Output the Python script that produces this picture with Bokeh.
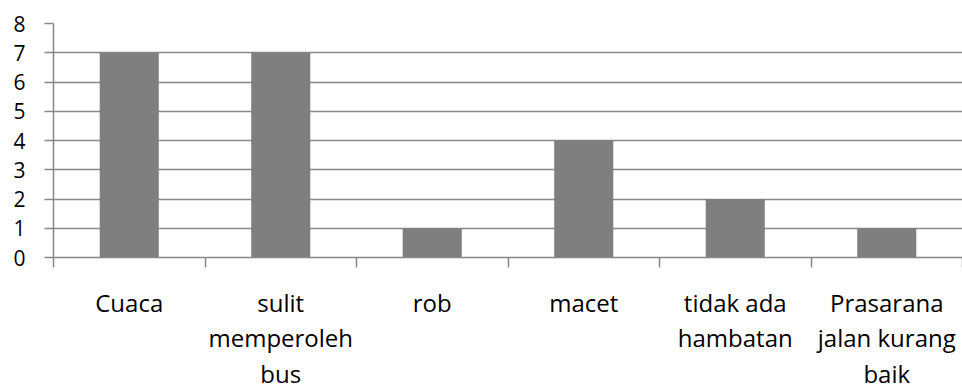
from bokeh.plotting import figure
from bokeh.layouts import column
from bokeh.models import ColumnDataSource, Range1d, FixedTicker
from bokeh.core.properties import value
from bokeh.embed import file_html
from bokeh.resources import INLINE

categories = ["Cuaca", "sulit\nmemperoleh\nbus", "rob", "macet",
              "tidak ada\nhambatan", "Prasarana\njalan kurang\nbaik"]
values = [7, 7, 1, 4, 2, 1]
y_ticks = [0, 1, 2, 3, 4, 5, 6, 7, 8]

GRAY = "#878787"
BAR = "#7f7f7f"
FONT = "Open Sans"

n = len(categories)
centers = [i + 0.5 for i in range(n)]
src = ColumnDataSource(dict(x=centers, top=values, label=categories))
xr = Range1d(0, n)

TOP_H = 276
p = figure(width=962, height=TOP_H, x_range=xr, y_range=Range1d(0, 8),
           output_backend="svg", toolbar_location=None,
           min_border_left=53, min_border_right=0, min_border_top=23,
           min_border_bottom=TOP_H - 257)
p.outline_line_color = None

p.vbar(x="x", top="top", width=0.39, source=src,
       fill_color=BAR, line_color=None)

# x axis: category boundary ticks only
xa = p.xaxis[0]
xa.ticker = FixedTicker(ticks=list(range(n + 1)))
xa.major_tick_out = 10
xa.major_tick_in = 0
xa.minor_tick_line_color = None
xa.major_tick_line_color = GRAY
xa.major_tick_line_width = 1.5
xa.axis_line_color = GRAY
xa.axis_line_width = 1.5
xa.major_label_text_font_size = "0px"
xa.major_label_standoff = 0

# y axis
ya = p.yaxis[0]
ya.ticker = FixedTicker(ticks=y_ticks)
ya.major_tick_out = 9
ya.major_tick_in = 0
ya.minor_tick_line_color = None
ya.major_tick_line_color = GRAY
ya.major_tick_line_width = 1.5
ya.axis_line_color = GRAY
ya.axis_line_width = 1.5
ya.major_label_text_font = FONT
ya.major_label_text_font_size = "21px"
ya.major_label_text_color = "black"
ya.major_label_standoff = 19

p.xgrid.visible = False
p.ygrid.ticker = FixedTicker(ticks=y_ticks)
p.ygrid.grid_line_color = GRAY
p.ygrid.grid_line_width = 1.5

# category labels strip below the chart
BOT_H = 385 - TOP_H
p2 = figure(width=962, height=BOT_H, x_range=xr, y_range=Range1d(BOT_H, 0),
            output_backend="svg", toolbar_location=None,
            x_axis_location=None, y_axis_location=None,
            min_border_left=53, min_border_right=0, min_border_top=0,
            min_border_bottom=0)
p2.outline_line_color = None
p2.grid.visible = False
p2.text(x="x", y=285 - TOP_H, text="label", source=src,
        text_align="center", text_baseline="top",
        text_font=value(FONT), text_font_size="24px",
        text_color="black", text_line_height=1.08)

layout = column(p, p2, spacing=0)
open("out.html", "w").write(file_html(layout, INLINE))
